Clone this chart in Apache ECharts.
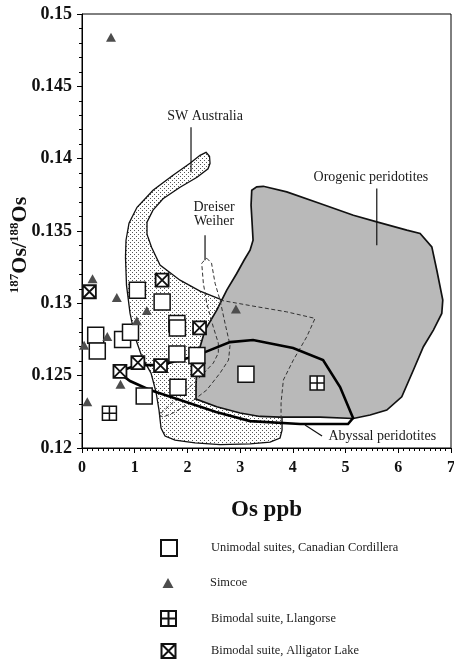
<!DOCTYPE html>
<html><head><meta charset="utf-8">
<script src="https://cdn.jsdelivr.net/npm/echarts@6/dist/echarts.min.js"></script>
<style>html,body{margin:0;padding:0;background:#fff}#c{width:454px;height:660px}</style>
</head><body><div id="c"></div>
<script>
// ---- data (Os ppb, 187Os/188Os) ----
const unimodal = [[1.05,0.1309],[1.52,0.1301],[1.80,0.1286],[1.81,0.1283],[0.26,0.1278],[0.29,0.1267],[0.77,0.1275],[0.92,0.1280],[1.80,0.1265],[2.18,0.1264],[1.82,0.1242],[1.18,0.1236],[3.11,0.1251]];
const simcoe = [[0.55,0.1484],[0.20,0.1317],[0.66,0.1304],[1.23,0.1295],[1.04,0.1288],[0.48,0.1277],[0.04,0.1271],[0.73,0.1244],[0.10,0.1232],[2.92,0.1296]];
const llangorse = [[0.52,0.1224],[4.46,0.1245]];
const alligator = [[0.14,0.1308],[1.52,0.1316],[2.23,0.1283],[1.06,0.1259],[1.49,0.1257],[0.72,0.1253],[2.20,0.1254]];

const swAustralia = [[2.353,0.14044],[2.419,0.14017],[2.429,0.13968],[2.391,0.13930],[2.182,0.13872],[1.860,0.13802],[1.537,0.13723],[1.347,0.13644],[1.233,0.13561],[1.233,0.13478],[1.319,0.13388],[1.480,0.13264],[1.860,0.13160],[2.239,0.13084],[2.619,0.13029],[3.093,0.12967],[3.472,0.12870],[3.757,0.12711],[3.814,0.12470],[3.795,0.12262],[3.795,0.12124],[3.757,0.12069],[3.567,0.12041],[3.188,0.12028],[2.619,0.12024],[2.144,0.12035],[1.765,0.12055],[1.575,0.12083],[1.499,0.12138],[1.461,0.12262],[1.404,0.12387],[1.309,0.12518],[1.139,0.12628],[1.006,0.12767],[0.911,0.12932],[0.844,0.13126],[0.825,0.13319],[0.835,0.13436],[0.892,0.13554],[1.044,0.13664],[1.347,0.13782],[1.727,0.13885],[2.049,0.13968],[2.239,0.14023]];
const orogenic = [[3.220,0.13782],[3.315,0.13805],[3.440,0.13809],[3.884,0.13770],[4.516,0.13690],[5.148,0.13609],[5.592,0.13563],[6.161,0.13506],[6.414,0.13483],[6.636,0.13390],[6.731,0.13229],[6.844,0.13022],[6.825,0.12930],[6.666,0.12815],[6.476,0.12700],[6.287,0.12539],[6.066,0.12354],[5.782,0.12262],[5.465,0.12228],[5.148,0.12204],[4.516,0.12214],[3.757,0.12214],[3.378,0.12218],[2.998,0.12242],[2.556,0.12285],[2.163,0.12338],[2.163,0.12435],[2.182,0.12573],[2.239,0.12698],[2.334,0.12815],[2.556,0.12953],[2.746,0.13091],[2.935,0.13206],[3.074,0.13298],[3.188,0.13367],[3.245,0.13436],[3.226,0.13561],[3.207,0.13678]];
const dreiserLobe = [[2.366,0.13312],[2.457,0.13278],[2.524,0.13139],[2.619,0.13022],[2.713,0.12863],[2.808,0.12711],[2.780,0.12608],[2.619,0.12518],[2.366,0.12401],[2.049,0.12311],[1.727,0.12242],[1.537,0.12214],[1.461,0.12228],[1.607,0.12276],[1.922,0.12380],[2.239,0.12490],[2.491,0.12587],[2.586,0.12656],[2.586,0.12725],[2.491,0.12836],[2.366,0.13001],[2.302,0.13139],[2.271,0.13278]];
const dreiserOuter = [[2.619,0.13022],[3.245,0.12981],[3.884,0.12941],[4.421,0.12896],[4.264,0.12769],[4.009,0.12608],[3.820,0.12470],[3.776,0.12311],[3.776,0.12180]];
const abyssal = [[0.683,0.12525],[1.044,0.12573],[1.480,0.12573],[2.011,0.12622],[2.334,0.12663],[2.808,0.12732],[3.245,0.12746],[4.004,0.12691],[4.573,0.12608],[4.896,0.12421],[5.142,0.12207],[5.047,0.12166],[4.137,0.12166],[3.188,0.12186],[2.543,0.12249],[1.917,0.12325],[1.290,0.12401],[0.911,0.12463]];

const leaders = [
  [[2.068,0.14217],[2.068,0.13906]],
  [[2.334,0.13471],[2.334,0.13298]],
  [[5.592,0.13794],[5.592,0.13402]],
  [[4.231,0.12159],[4.554,0.12083]]
];
const annotations = [
  [2.334,0.14295,'SW Australia','center'],
  [2.505,0.13616,'Dreiser\nWeiher','center'],
  [5.480,0.13874,'Orogenic peridotites','center'],
  [4.674,0.12078,'Abyssal peridotites','left']
];
const legendNames = ['Unimodal suites, Canadian Cordillera','Simcoe','Bimodal suite, Llangorse','Bimodal suite, Alligator Lake'];

// ---- styles ----
const SERIF = '"Liberation Serif", "Times New Roman", serif';
const pc = document.createElement('canvas');
pc.width = 4; pc.height = 4;
const pctx = pc.getContext('2d');
pctx.fillStyle = '#ffffff'; pctx.fillRect(0,0,4,4);
pctx.fillStyle = '#555555'; pctx.fillRect(0,0,1,1); pctx.fillRect(2,2,1,1);

function shapeSeries(pts, type, style, z) {
  return {
    type: 'custom', coordinateSystem: 'cartesian2d', silent: true, z: z,
    data: [[0, 0.12]], clip: true,
    renderItem: function (params, api) {
      return { type: type, shape: { points: pts.map(function (p) { return api.coord(p); }) }, style: style };
    }
  };
}

const chart = echarts.init(document.getElementById('c'), null, { renderer: 'canvas' });
const series = [
  shapeSeries(swAustralia, 'polygon', { fill: { image: pc, repeat: 'repeat' }, stroke: '#111', lineWidth: 1.3 }, 1),
  shapeSeries(orogenic, 'polygon', { fill: '#b9b9b9', stroke: '#111', lineWidth: 1.7 }, 2),
  shapeSeries(dreiserLobe, 'polygon', { fill: 'none', stroke: '#333', lineWidth: 1, lineDash: [4, 2.5] }, 3),
  shapeSeries(dreiserOuter, 'polyline', { fill: 'none', stroke: '#333', lineWidth: 1, lineDash: [4, 2.5] }, 3),
  shapeSeries(abyssal, 'polygon', { fill: 'none', stroke: '#000', lineWidth: 2.6 }, 4)
];
leaders.forEach(function (l) {
  series.push(shapeSeries(l, 'polyline', { fill: 'none', stroke: '#111', lineWidth: 1.2 }, 4));
});
series.push({
  type: 'custom', coordinateSystem: 'cartesian2d', silent: true, z: 5,
  data: annotations.map(function (a) { return [a[0], a[1]]; }),
  renderItem: function (params, api) {
    const a = annotations[params.dataIndex];
    const p = api.coord([a[0], a[1]]);
    return { type: 'text', x: p[0], y: p[1], style: { text: a[2], fill: '#1a1a1a', font: '14px ' + SERIF, align: a[3], verticalAlign: 'middle', lineHeight: 14 } };
  }
});
series.push(
  { type: 'scatter', name: legendNames[0], data: unimodal, z: 10, symbol: 'rect', symbolSize: 16,
    itemStyle: { color: '#fff', borderColor: '#111', borderWidth: 1.5, opacity: 1 } },
  { type: 'scatter', name: legendNames[1], data: simcoe, z: 10, symbol: 'triangle', symbolSize: [10, 9],
    itemStyle: { color: '#4d4d4d', opacity: 1 } },
  { type: 'scatter', name: legendNames[2], data: llangorse, z: 10, symbol: 'path://M0,0H10V10H0Z M5,0V10 M0,5H10', symbolSize: 14,
    itemStyle: { color: '#fff', borderColor: '#111', borderWidth: 1.5, opacity: 1 } },
  { type: 'scatter', name: legendNames[3], data: alligator, z: 10, symbol: 'path://M0,0H10V10H0Z M0,0L10,10 M10,0L0,10', symbolSize: 13,
    itemStyle: { color: '#fff', borderColor: '#111', borderWidth: 1.8, opacity: 1 } }
);

function lg(name, left, top, w, h, pad) {
  return { data: [name], orient: 'vertical', left: left, top: top, itemWidth: w, itemHeight: h, selectedMode: false, padding: 0,
    textStyle: { fontFamily: SERIF, fontSize: 12.4, color: '#222', padding: [0, 0, 0, pad] } };
}

chart.setOption({
  animation: false,
  backgroundColor: '#fff',
  grid: { left: 82, right: 3, top: 14, bottom: 212, outerBoundsMode: 'none', containLabel: false, show: true, borderColor: '#000', borderWidth: 1, backgroundColor: 'transparent' },
  xAxis: {
    type: 'value', min: 0, max: 7, interval: 1,
    name: 'Os ppb', nameLocation: 'middle', nameGap: 51,
    nameTextStyle: { fontFamily: SERIF, fontSize: 23, fontWeight: 'bold', color: '#111' },
    axisLine: { show: true, lineStyle: { color: '#000', width: 1 } },
    axisTick: { show: true, length: 5, lineStyle: { color: '#000' } },
    minorTick: { show: true, splitNumber: 10, length: 3, lineStyle: { color: '#000' } },
    splitLine: { show: false },
    axisLabel: { fontFamily: SERIF, fontSize: 16, fontWeight: 'bold', color: '#111', margin: 12, hideOverlap: false }
  },
  yAxis: {
    type: 'value', min: 0.12, max: 0.15, interval: 0.005,
    axisLine: { show: true, lineStyle: { color: '#000', width: 1 } },
    axisTick: { show: true, length: 5, lineStyle: { color: '#000' } },
    minorTick: { show: true, splitNumber: 5, length: 3, lineStyle: { color: '#000' } },
    splitLine: { show: false },
    axisLabel: { fontFamily: SERIF, fontSize: 18, fontWeight: 'bold', color: '#111', margin: 10 }
  },
  legend: [
    lg(legendNames[0], 160, 539, 16, 16, 29),
    lg(legendNames[1], 162.5, 577, 11, 10, 31.5),
    lg(legendNames[2], 160, 610, 15, 15, 30),
    lg(legendNames[3], 160.5, 643, 14, 14, 30.5)
  ],
  graphic: [{
    type: 'text', x: 20, y: 245, rotation: Math.PI / 2,
    style: {
      text: '{s|187}{b|Os/}{s|188}{b|Os}', align: 'center', verticalAlign: 'middle',
      rich: {
        b: { fontFamily: SERIF, fontSize: 22, fontWeight: 'bold', fill: '#111', lineHeight: 24 },
        s: { fontFamily: SERIF, fontSize: 13, fontWeight: 'bold', fill: '#111', lineHeight: 13, verticalAlign: 'top' }
      }
    }
  }],
  series: series
});
</script></body></html>
